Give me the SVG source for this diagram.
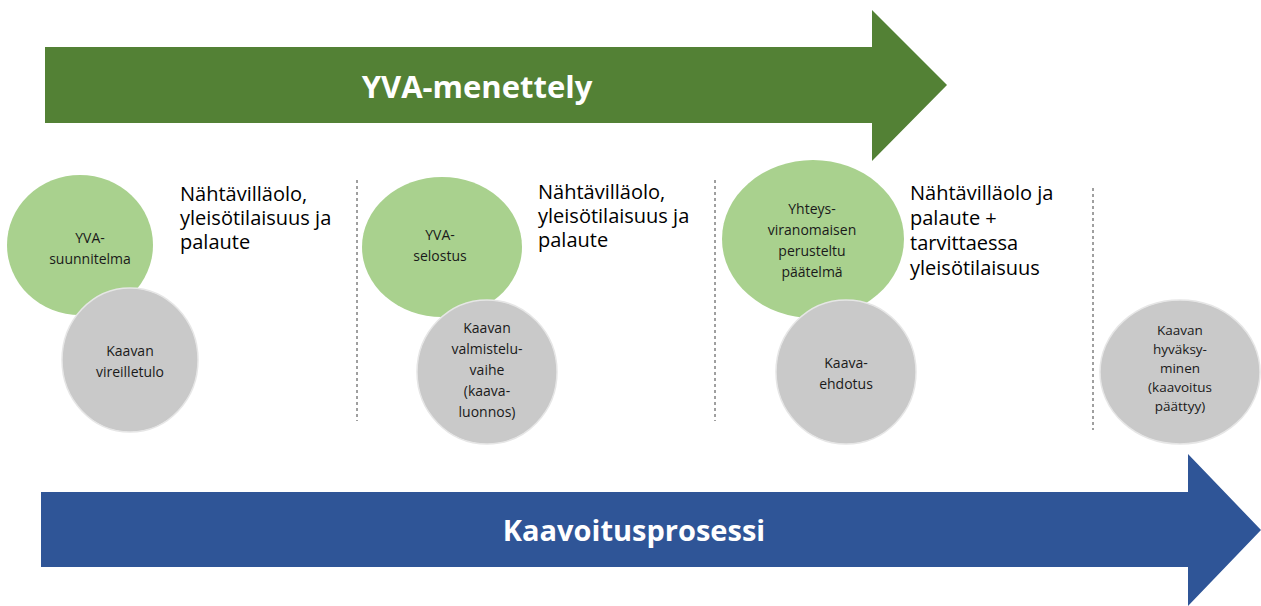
<svg xmlns="http://www.w3.org/2000/svg" width="1261" height="606" viewBox="0 0 1261 606">
<style>
.bar{font-family:"Open Sans","Noto Sans",sans-serif;font-weight:bold;fill:#ffffff;text-anchor:middle}
.lbl{font-family:"Open Sans","Noto Sans",sans-serif;font-size:14px;fill:#1a1a1a;text-anchor:middle}
.sm{font-size:13.5px}
.side{font-family:"Open Sans","Noto Sans",sans-serif;font-size:20px;fill:#000000}
.g{fill:#A9D18E}
.k{fill:#C9C9C9;stroke:#E6E6E6;stroke-width:1.5}
.dash{stroke:#404040;stroke-width:1;stroke-dasharray:3 3;fill:none}
</style>
<rect width="1261" height="606" fill="#ffffff"/>
<g id="connectors">
<line class="dash" x1="357" y1="180" x2="357" y2="421"/>
<line class="dash" x1="715" y1="180" x2="715" y2="421"/>
<line class="dash" x1="1093" y1="188" x2="1093" y2="430"/>
</g>
<g id="yva-arrow">
<polygon points="45,47 872,47 872,10 947,85 872,161 872,123 45,123" fill="#538135"/>
<text class="bar" x="477" y="98" font-size="31">YVA-menettely</text>
</g>
<g id="kaavoitus-arrow">
<polygon points="41,492 1188,492 1188,454 1261,530 1188,606 1188,567 41,567" fill="#2F5597"/>
<text class="bar" x="634" y="541" font-size="29">Kaavoitusprosessi</text>
</g>
<g id="yva-suunnitelma">
<ellipse class="g" cx="80" cy="245" rx="73" ry="70"/>
<text class="lbl" x="90"><tspan x="90" y="243">YVA-</tspan><tspan x="90" y="264">suunnitelma</tspan></text>
</g>
<g id="kaavan-vireilletulo">
<ellipse class="k" cx="130" cy="360" rx="68" ry="72"/>
<text class="lbl"><tspan x="130" y="356">Kaavan</tspan><tspan x="130" y="377">vireilletulo</tspan></text>
</g>
<g id="text-1">
<text class="side"><tspan x="180" y="201">Nähtävilläolo,</tspan><tspan x="180" y="225">yleisötilaisuus ja</tspan><tspan x="180" y="249">palaute</tspan></text>
</g>
<g id="yva-selostus">
<ellipse class="g" cx="442" cy="247" rx="80" ry="70"/>
<text class="lbl"><tspan x="440" y="240">YVA-</tspan><tspan x="440" y="261">selostus</tspan></text>
</g>
<g id="kaavan-valmisteluvaihe">
<ellipse class="k" cx="487" cy="372" rx="70" ry="72"/>
<text class="lbl"><tspan x="487" y="333">Kaavan</tspan><tspan x="487" y="354">valmistelu-</tspan><tspan x="487" y="375">vaihe</tspan><tspan x="487" y="396">(kaava-</tspan><tspan x="487" y="417">luonnos)</tspan></text>
</g>
<g id="text-2">
<text class="side"><tspan x="538" y="199">Nähtävilläolo,</tspan><tspan x="538" y="223">yleisötilaisuus ja</tspan><tspan x="538" y="247">palaute</tspan></text>
</g>
<g id="perusteltu-paatelma">
<ellipse class="g" cx="813" cy="239" rx="91" ry="79"/>
<text class="lbl"><tspan x="812" y="214">Yhteys-</tspan><tspan x="812" y="235">viranomaisen</tspan><tspan x="812" y="256">perusteltu</tspan><tspan x="812" y="277">päätelmä</tspan></text>
</g>
<g id="kaava-ehdotus">
<ellipse class="k" cx="846" cy="372" rx="70" ry="72"/>
<text class="lbl"><tspan x="846" y="368">Kaava-</tspan><tspan x="846" y="389">ehdotus</tspan></text>
</g>
<g id="text-3">
<text class="side"><tspan x="910" y="200">Nähtävilläolo ja</tspan><tspan x="910" y="225">palaute +</tspan><tspan x="910" y="250">tarvittaessa</tspan><tspan x="910" y="275">yleisötilaisuus</tspan></text>
</g>
<g id="kaavan-hyvaksyminen">
<ellipse class="k" cx="1180" cy="372" rx="80" ry="72"/>
<text class="lbl sm"><tspan x="1180" y="335">Kaavan</tspan><tspan x="1180" y="354">hyväksy-</tspan><tspan x="1180" y="373">minen</tspan><tspan x="1180" y="392">(kaavoitus</tspan><tspan x="1180" y="411">päättyy)</tspan></text>
</g>
</svg>
